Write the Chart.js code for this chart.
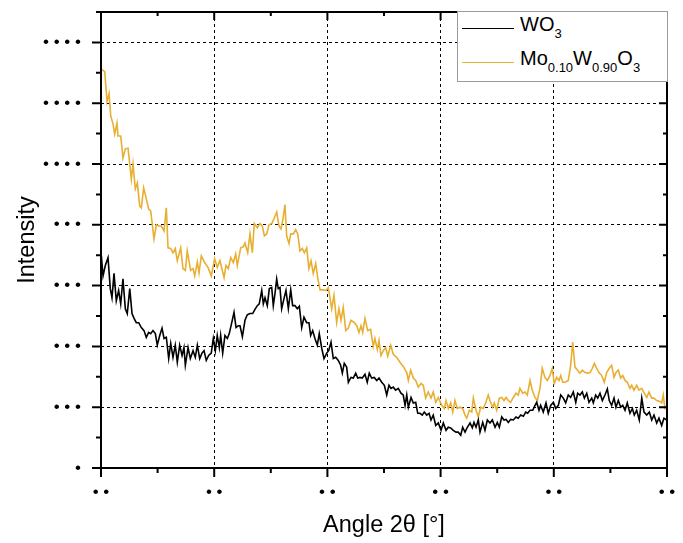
<!DOCTYPE html>
<html>
<head>
<meta charset="utf-8">
<script src="https://cdn.jsdelivr.net/npm/chart.js@4/dist/chart.umd.min.js"></script>
<style>
  html, body { margin: 0; padding: 0; background: #fff; }
  #wrap { position: relative; width: 683px; height: 543px; }
  #legend {
    position: absolute; left: 457px; top: 11px; width: 211px; height: 71px;
    box-sizing: border-box; background: #fff; border: 1px solid #9a9a9a;
    font-family: 'Liberation Sans', Arial, sans-serif; color: #000;
  }
  .row { position: absolute; left: 0; height: 20px; width: 100%; }
  .swatch { position: absolute; left: 4px; width: 52px; height: 0; border-top: 1.5px solid; }
  .lbl { position: absolute; left: 62px; top: 0; font-size: 20px; line-height: 20px; white-space: nowrap; }
  .lbl sub { font-size: 13px; line-height: 0; vertical-align: -7px; }
</style>
</head>
<body>
<div id="wrap">
  <canvas id="xrdChart" width="683" height="543"></canvas>
  <div id="legend">
    <div class="row" style="top:2px;"><div class="swatch" style="top:14px;border-color:#000;"></div><div class="lbl">WO<sub>3</sub></div></div>
    <div class="row" style="top:36px;"><div class="swatch" style="top:14px;border-color:#e8af32;"></div><div class="lbl">Mo<sub>0.10</sub>W<sub>0.90</sub>O<sub>3</sub></div></div>
  </div>
</div>
<script>
/* ---- DATA ---- */
const xTicks = [20, 30, 40, 50, 60, 70];
const yTicks = [0, 200, 400, 600, 800, 1000, 1200, 1400];

const woX = [20.03,20.18,20.38,20.62,20.82,20.97,21.15,21.35,21.56,21.74,21.94,22.15,22.32,22.54,22.74,22.92,23.12,23.33,23.56,23.80,
  24.00,24.21,24.39,24.59,24.80,24.97,25.19,25.39,25.57,25.77,25.98,26.16,26.36,26.56,26.74,26.95,27.16,27.33,27.45,27.69,
  27.89,28.13,28.33,28.51,28.72,28.92,29.10,29.30,29.51,29.74,29.92,30.10,30.27,30.45,30.57,30.75,30.95,31.16,31.33,31.55,
  31.75,31.93,32.13,32.28,32.49,32.72,32.92,33.16,33.40,33.60,33.81,33.98,34.20,34.34,34.49,34.69,34.87,35.08,35.22,35.37,
  35.52,35.66,35.81,35.96,36.17,36.34,36.55,36.76,36.93,37.14,37.34,37.52,37.73,37.93,38.17,38.37,38.52,38.70,38.90,39.11,
  39.28,39.50,39.70,39.94,40.11,40.32,40.52,40.73,40.96,41.17,41.32,41.49,41.70,41.85,42.08,42.29,42.50,42.68,42.88,43.08,
  43.32,43.52,43.70,43.91,44.14,44.36,44.56,44.80,45.03,45.24,45.44,45.62,45.82,46.03,46.26,46.50,46.70,46.86,47.01,47.15,
  47.39,47.59,47.80,47.98,48.18,48.38,48.56,48.77,48.98,49.15,49.35,49.57,49.80,50.04,50.24,50.48,50.68,50.89,51.12,51.36,
  51.56,51.78,51.95,52.16,52.36,52.60,52.80,52.95,53.13,53.33,53.48,53.72,53.92,54.13,54.36,54.57,54.81,55.01,55.19,55.40,
  55.60,55.78,55.98,56.19,56.42,56.66,56.86,57.08,57.31,57.52,57.69,57.90,58.14,58.34,58.49,58.69,58.84,59.07,59.31,59.51,
  59.73,59.96,60.17,60.40,60.61,60.84,61.05,61.28,61.49,61.72,61.94,62.11,62.31,62.52,62.70,62.91,63.11,63.35,63.49,63.70,
  63.88,64.08,64.29,64.52,64.73,64.90,65.11,65.32,65.49,65.70,65.91,66.09,66.29,66.49,66.73,66.94,67.11,67.32,67.55,67.77,
  67.97,68.21,68.44,68.65,68.85,69.09,69.29,69.53,69.73,69.97];
const woY = [698,632,666,692,590,560,640,550,584,540,622,524,508,590,508,492,478,478,462,452,
  430,446,442,452,442,404,436,460,426,430,360,410,364,404,348,404,370,396,338,396,
  360,386,364,404,360,378,386,354,370,378,426,386,436,396,436,378,436,426,442,478,
  512,462,468,468,432,486,504,508,508,522,534,540,584,540,560,534,590,594,534,574,
  622,590,594,524,558,584,524,586,534,534,524,532,462,496,478,478,436,452,426,404,
  442,394,360,378,386,414,360,364,354,338,312,344,332,282,298,296,312,296,298,296,
  308,282,312,296,298,288,296,282,272,240,272,262,266,256,262,246,240,206,240,200,
  232,214,216,180,180,174,184,174,180,158,174,140,148,124,148,124,134,132,124,118,
  118,108,134,118,134,148,132,150,134,158,118,150,124,158,148,158,134,150,134,168,
  158,160,150,160,158,168,164,174,170,184,180,190,190,206,216,190,206,184,214,180,
  206,216,196,206,240,230,214,240,232,250,216,246,240,250,230,246,216,230,214,240,
  230,246,222,240,260,222,206,230,200,222,200,206,190,214,180,196,174,190,158,230,
  184,174,184,158,174,148,164,140,164,158];

const moX = [20.03,20.33,20.53,20.71,20.86,21.06,21.21,21.41,21.50,21.74,21.94,22.15,22.39,22.68,22.83,23.03,23.21,23.42,23.56,23.77,
  24.00,24.21,24.39,24.68,24.89,25.10,25.33,25.57,25.77,25.92,26.16,26.36,26.56,26.74,27.04,27.24,27.45,27.62,27.92,28.13,
  28.28,28.51,28.66,28.86,29.16,29.45,29.74,30.04,30.27,30.51,30.87,31.04,31.25,31.46,31.69,31.90,32.04,32.34,32.57,32.72,
  32.96,33.16,33.37,33.54,33.81,34.05,34.25,34.43,34.64,34.84,35.08,35.28,35.52,35.72,35.90,36.05,36.25,36.40,36.61,36.76,
  36.99,37.20,37.38,37.58,37.78,37.96,38.17,38.37,38.55,38.75,38.97,39.14,39.35,39.64,39.88,40.08,40.38,40.58,40.82,41.02,
  41.20,41.40,41.62,41.85,42.08,42.38,42.59,42.79,42.97,43.12,43.32,43.56,43.82,44.05,44.20,44.41,44.56,44.73,44.94,45.15,
  45.33,45.59,45.82,46.12,46.41,46.70,47.01,47.15,47.36,47.59,47.80,48.03,48.27,48.47,48.68,48.91,49.15,49.35,49.57,49.80,
  50.10,50.33,50.48,50.68,50.89,51.07,51.27,51.47,51.71,51.95,52.16,52.31,52.54,52.75,52.89,53.13,53.33,53.54,53.77,53.98,
  54.21,54.36,54.60,54.74,54.96,55.19,55.40,55.60,55.78,55.98,56.19,56.42,56.66,56.86,57.01,57.25,57.46,57.66,57.90,58.10,
  58.34,58.54,58.78,58.98,59.22,59.43,59.66,59.87,60.04,60.26,60.46,60.61,60.79,60.99,61.28,61.49,61.67,61.87,62.08,62.31,
  62.52,62.76,62.99,63.20,63.40,63.58,63.79,63.99,64.23,64.46,64.67,64.90,65.11,65.32,65.49,65.70,65.91,66.09,66.29,66.49,
  66.73,66.88,67.08,67.32,67.53,67.77,67.99,68.21,68.41,68.65,68.85,69.09,69.32,69.53,69.67,69.82,70.00];
const moY = [1312,1304,1206,1232,1158,1132,1098,1134,1092,1092,1020,1050,1052,950,1000,918,938,862,856,922,
  886,852,846,754,800,796,796,780,856,724,722,708,722,682,724,656,650,714,650,656,
  632,678,642,698,676,660,632,688,660,682,626,666,656,692,676,704,666,724,728,740,
  708,770,708,804,790,804,796,764,770,800,804,820,842,796,786,814,866,764,738,770,
  770,784,770,714,722,708,724,656,682,640,672,626,586,586,584,594,524,568,478,524,
  486,528,452,460,486,478,468,446,468,446,492,452,456,400,426,390,420,370,386,396,
  368,404,374,364,348,334,314,288,322,296,288,266,278,272,230,250,230,250,216,232,
  206,196,222,196,214,184,222,196,200,196,174,164,190,184,230,190,168,200,196,214,
  240,222,200,214,190,230,232,222,232,222,216,232,246,240,262,246,250,240,288,256,
  232,222,262,328,298,288,304,328,278,298,288,304,282,282,288,338,414,332,322,312,
  322,314,312,314,328,344,328,314,304,282,314,328,338,298,314,322,296,304,288,282,
  262,272,256,272,256,262,246,232,250,230,230,222,220,214,240,196,200];

/* ---- FRAME + TICKS (box axes, outer ticks left/bottom, inner ticks top/right) ---- */
const frameTicks = {
  id: 'frameTicks',
  afterDatasetsDraw(chart) {
    const { ctx, chartArea: a, scales: { x, y } } = chart;
    const mid = arr => arr.slice(1).map((v, i) => (v + arr[i]) / 2);
    ctx.save();
    ctx.strokeStyle = '#000';
    ctx.lineWidth = 2;
    ctx.beginPath();
    xTicks.forEach(v => {
      const p = x.getPixelForValue(v);
      ctx.moveTo(p, a.bottom); ctx.lineTo(p, a.bottom + 9);
      ctx.moveTo(p, a.top); ctx.lineTo(p, a.top + 8);
    });
    mid(xTicks).forEach(v => {
      const p = x.getPixelForValue(v);
      ctx.moveTo(p, a.bottom); ctx.lineTo(p, a.bottom + 5);
      ctx.moveTo(p, a.top); ctx.lineTo(p, a.top + 4);
    });
    yTicks.forEach(v => {
      const p = y.getPixelForValue(v);
      ctx.moveTo(a.left, p); ctx.lineTo(a.left - 9, p);
      ctx.moveTo(a.right, p); ctx.lineTo(a.right - 8, p);
    });
    mid(yTicks.concat([1600])).forEach(v => {
      const p = y.getPixelForValue(v);
      ctx.moveTo(a.left, p); ctx.lineTo(a.left - 5, p);
      ctx.moveTo(a.right, p); ctx.lineTo(a.right - 4, p);
    });
    ctx.stroke();
    ctx.strokeRect(a.left, a.top, a.right - a.left, a.bottom - a.top);
    ctx.restore();
  }
};

const dots = v => Array(String(v).length).fill('\u2022').join(' ');

// keep the plot box fixed: no extra room for edge labels
const noPad = s => { s.paddingTop = 0; s.paddingBottom = 0; s.paddingLeft = 0; s.paddingRight = 0; };

Chart.defaults.font.family = "'Liberation Sans', Arial, sans-serif";
Chart.defaults.color = '#000';

new Chart(document.getElementById('xrdChart'), {
  type: 'line',
  data: {
    datasets: [
      {
        label: 'WO3',
        data: woX.map((v, i) => ({ x: v, y: woY[i] })),
        borderColor: '#000',
        borderWidth: 1.6,
        pointRadius: 0,
        tension: 0
      },
      {
        label: 'Mo0.10W0.90O3',
        data: moX.map((v, i) => ({ x: v, y: moY[i] })),
        borderColor: '#e8af32',
        borderWidth: 1.6,
        pointRadius: 0,
        tension: 0
      }
    ]
  },
  options: {
    responsive: false,
    animation: false,
    layout: { padding: { top: 12, right: 16, left: 0, bottom: 0 } },
    plugins: { legend: { display: false }, tooltip: { enabled: false } },
    scales: {
      x: {
        type: 'linear', min: 20, max: 70,
        afterBuildTicks: s => { s.ticks = xTicks.map(v => ({ value: v })); },
        afterFit: s => { s.height = 75; noPad(s); },
        ticks: { font: { size: 17 }, padding: 14, maxRotation: 0, callback: v => dots(v) },
        grid: { color: '#000', lineWidth: 1, drawTicks: false },
        border: { display: false, dash: [3, 3] },
        title: { display: true, text: 'Angle 2\u03b8 [\u00b0]', font: { size: 23.5 }, padding: { bottom: 3, top: 0 } }
      },
      y: {
        type: 'linear', min: 0, max: 1500,
        afterBuildTicks: s => { s.ticks = yTicks.map(v => ({ value: v })); },
        afterFit: s => { s.width = 101; noPad(s); },
        ticks: { font: { size: 17 }, padding: 20, callback: v => dots(v) },
        grid: { color: '#000', lineWidth: 1, drawTicks: false },
        border: { display: false, dash: [3, 3] },
        title: { display: true, text: 'Intensity', font: { size: 23.5 }, padding: { top: 13, bottom: 0 } }
      }
    }
  },
  plugins: [frameTicks]
});
</script>
</body>
</html>
